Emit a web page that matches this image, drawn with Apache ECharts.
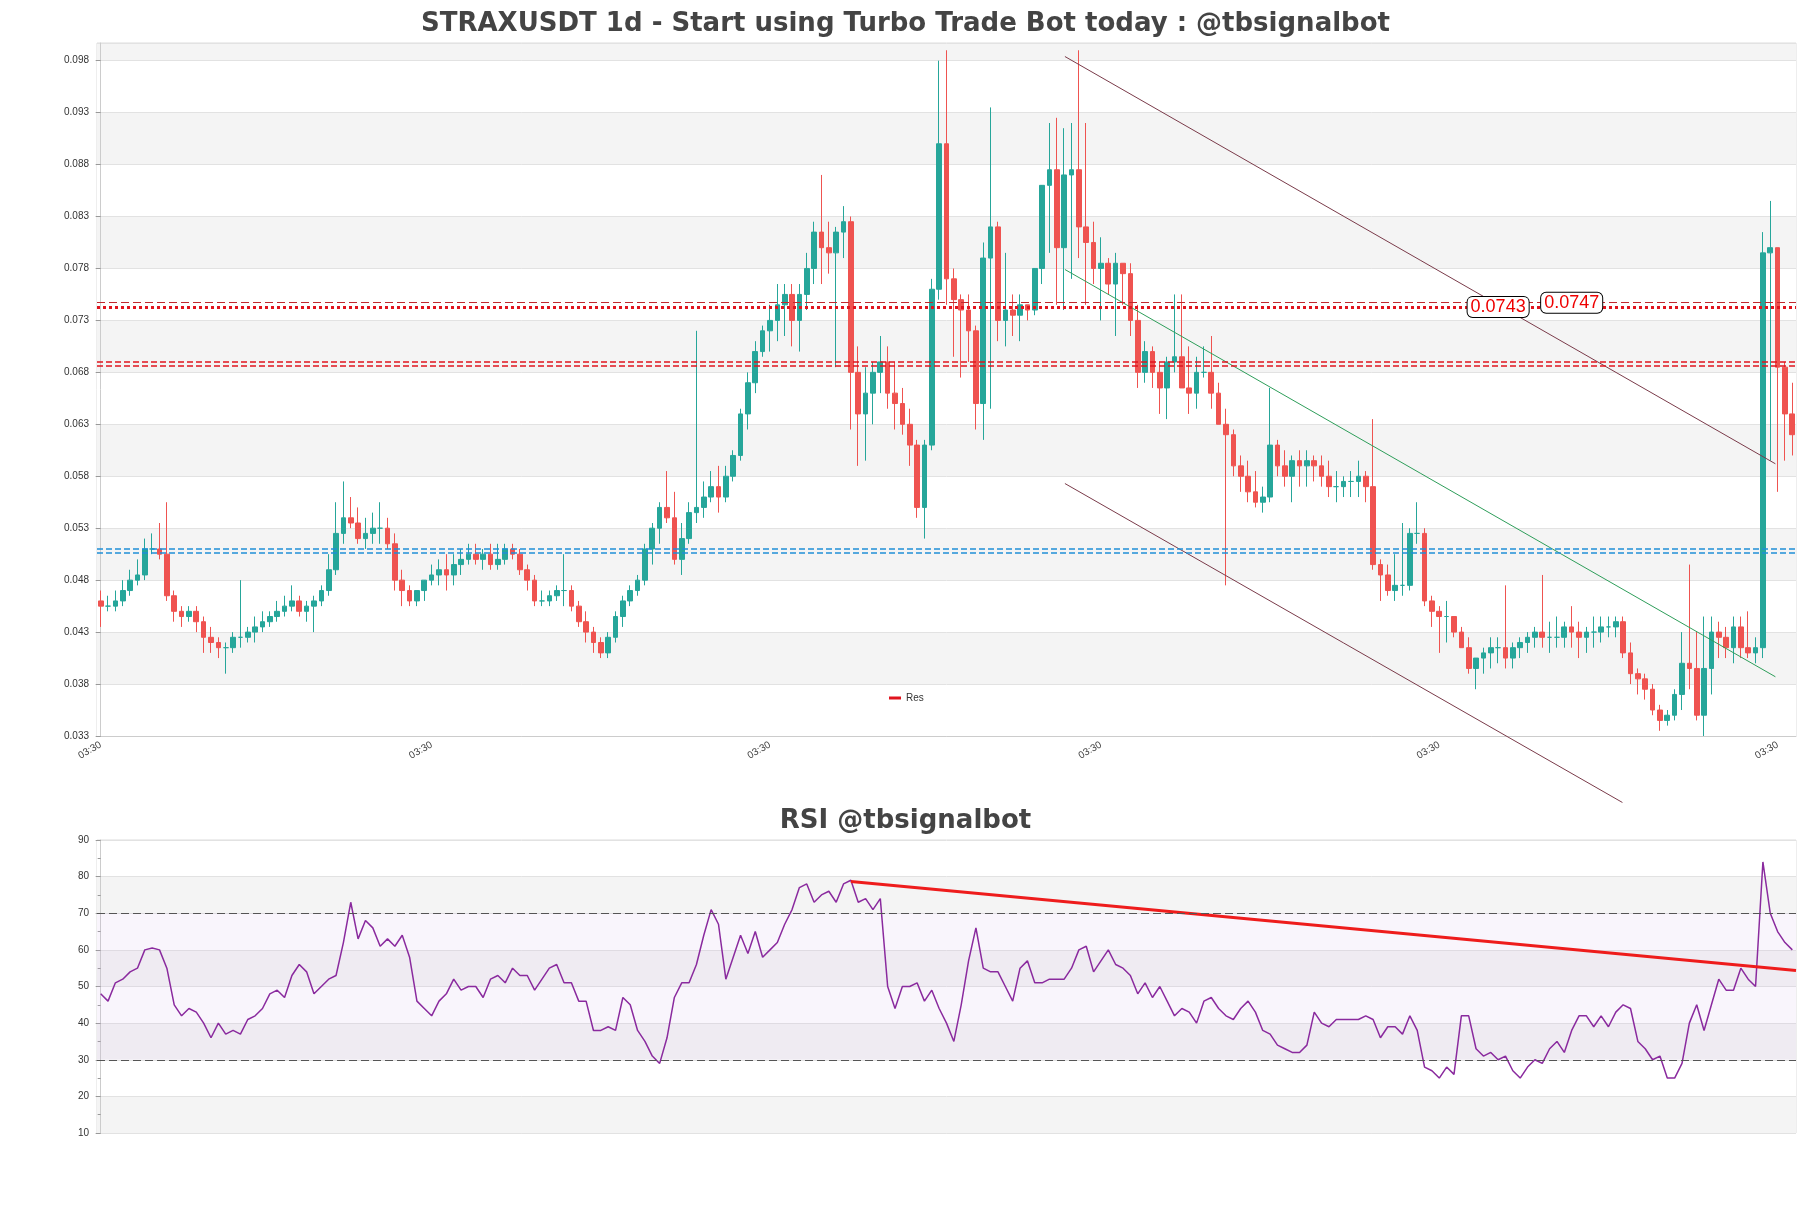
<!DOCTYPE html>
<html>
<head>
<meta charset="utf-8">
<script src="https://cdn.jsdelivr.net/npm/echarts@6/dist/echarts.min.js"></script>
<style>html,body{margin:0;padding:0;background:#fff}#c{width:1811px;height:1208px}</style>
</head>
<body>
<div id="c"></div>
<script>
// closes, highs, lows (daily candles); open = previous close
var firstOpen = 0.046;
var closes = [
 0.0455,0.0455,0.046,0.047,0.048,0.0485,0.051,0.051,0.0505,0.0465,
 0.045,0.0445,0.045,0.044,0.0425,0.042,0.0415,0.0415,0.0425,0.0425,
 0.043,0.0435,0.044,0.0445,0.045,0.0455,0.046,0.045,0.0455,0.046,
 0.047,0.049,0.0525,0.054,0.0535,0.052,0.0525,0.053,0.053,0.0515,
 0.048,0.047,0.046,0.047,0.048,0.0485,0.049,0.0485,0.0495,0.050,
 0.0505,0.050,0.0505,0.0495,0.050,0.051,0.0505,0.049,0.048,0.046,
 0.046,0.0465,0.047,0.047,0.0455,0.044,0.043,0.042,0.041,0.0425,
 0.0445,0.046,0.047,0.048,0.051,0.053,0.055,0.054,0.050,0.052,
 0.0545,0.055,0.056,0.057,0.056,0.058,0.060,0.064,0.067,0.070,
 0.072,0.073,0.0745,0.0755,0.073,0.0755,0.078,0.0815,0.080,0.0795,
 0.0815,0.0825,0.068,0.064,0.066,0.068,0.069,0.066,0.065,0.063,
 0.061,0.055,0.061,0.076,0.090,0.077,0.075,0.074,0.072,0.065,
 0.079,0.082,0.073,0.074,0.0735,0.0745,0.074,0.078,0.086,0.0875,
 0.080,0.087,0.0875,0.082,0.0805,0.078,0.0785,0.0765,0.0785,0.0775,
 0.073,0.068,0.070,0.068,0.0665,0.069,0.0695,0.0665,0.066,0.068,
 0.068,0.066,0.063,0.062,0.059,0.058,0.0565,0.0555,0.056,0.061,
 0.059,0.058,0.0595,0.059,0.0595,0.059,0.058,0.057,0.057,0.0575,
 0.0575,0.058,0.057,0.0495,0.0485,0.047,0.0475,0.0475,0.0525,0.0525,
 0.046,0.045,0.0445,0.0445,0.043,0.0415,0.0395,0.0405,0.041,0.0415,
 0.0415,0.0405,0.0415,0.042,0.0425,0.043,0.0425,0.0425,0.0425,0.0435,
 0.043,0.0425,0.043,0.043,0.0435,0.0435,0.044,0.041,0.039,0.0385,
 0.0375,0.0355,0.0345,0.035,0.037,0.040,0.0395,0.035,0.0395,0.043,
 0.0425,0.0415,0.0435,0.0415,0.041,0.0415,0.0795,0.080,0.0685,0.064,
 0.062
];
var highs = [
 0.047,0.0465,0.047,0.048,0.049,0.050,0.052,0.0525,0.0535,0.0555,
 0.047,0.0455,0.0455,0.0455,0.0445,0.0435,0.0425,0.042,0.043,0.048,
 0.0435,0.0445,0.045,0.045,0.046,0.0465,0.0475,0.0465,0.046,0.0465,
 0.0475,0.0505,0.0555,0.0575,0.056,0.055,0.054,0.0545,0.0555,0.054,
 0.0525,0.049,0.0475,0.047,0.0475,0.0495,0.050,0.0505,0.0505,0.051,
 0.0515,0.0515,0.051,0.0515,0.0515,0.0515,0.0515,0.051,0.0495,0.0485,
 0.047,0.047,0.0475,0.0505,0.0475,0.046,0.045,0.0435,0.0425,0.043,
 0.045,0.0465,0.0475,0.0485,0.0515,0.0535,0.0555,0.0585,0.0565,0.0535,
 0.0555,0.072,0.0575,0.0585,0.059,0.059,0.0605,0.0645,0.068,0.071,
 0.0725,0.0745,0.0765,0.0765,0.0765,0.0765,0.0795,0.0825,0.087,0.0825,
 0.082,0.084,0.083,0.0705,0.0685,0.069,0.0715,0.0705,0.069,0.0665,
 0.0645,0.0615,0.0615,0.077,0.098,0.099,0.078,0.0755,0.0755,0.0725,
 0.0805,0.0935,0.0825,0.0795,0.0755,0.0755,0.0745,0.0755,0.0815,0.092,
 0.0925,0.0915,0.092,0.099,0.092,0.0825,0.081,0.079,0.0795,0.0785,
 0.0785,0.0745,0.071,0.0705,0.069,0.0695,0.0755,0.0755,0.0705,0.0695,
 0.0705,0.0715,0.067,0.0645,0.0625,0.060,0.0595,0.0585,0.057,0.0665,
 0.0615,0.0605,0.060,0.0605,0.0605,0.060,0.060,0.0595,0.0585,0.058,
 0.0585,0.0595,0.0585,0.0635,0.050,0.0495,0.0505,0.0535,0.053,0.0555,
 0.053,0.0465,0.0455,0.046,0.0445,0.0435,0.0425,0.0405,0.0415,0.0425,
 0.0425,0.0475,0.042,0.0425,0.043,0.0435,0.0485,0.044,0.0445,0.044,
 0.0455,0.044,0.0435,0.0445,0.0445,0.0445,0.0445,0.0445,0.042,0.0395,
 0.039,0.038,0.036,0.0355,0.0375,0.043,0.0495,0.043,0.0445,0.0445,
 0.044,0.0435,0.0445,0.0445,0.045,0.0425,0.0815,0.0845,0.080,0.069,
 0.067
];
var lows = [
 0.0435,0.045,0.045,0.0455,0.0465,0.0475,0.048,0.0505,0.050,0.046,
 0.044,0.0435,0.044,0.043,0.041,0.041,0.0405,0.039,0.041,0.0415,
 0.042,0.042,0.043,0.0435,0.044,0.0445,0.045,0.0445,0.044,0.043,
 0.0455,0.0465,0.0485,0.0515,0.053,0.0515,0.051,0.0515,0.0515,0.051,
 0.047,0.0455,0.0455,0.0455,0.046,0.0475,0.0475,0.047,0.0475,0.0485,
 0.0495,0.0495,0.049,0.049,0.049,0.0495,0.050,0.0485,0.047,0.0455,
 0.0455,0.0455,0.046,0.0455,0.045,0.0435,0.042,0.041,0.0405,0.0405,
 0.042,0.0435,0.0455,0.0465,0.0475,0.0495,0.0515,0.0535,0.0495,0.0485,
 0.0515,0.0535,0.054,0.0555,0.0545,0.0555,0.0575,0.0595,0.0625,0.066,
 0.0695,0.070,0.071,0.0715,0.0705,0.070,0.074,0.0765,0.0765,0.0775,
 0.0685,0.079,0.0625,0.059,0.0595,0.063,0.066,0.0645,0.0625,0.062,
 0.059,0.054,0.052,0.0605,0.075,0.0745,0.0695,0.0675,0.069,0.0625,
 0.0615,0.0645,0.071,0.0705,0.0715,0.071,0.073,0.0735,0.0765,0.0795,
 0.0745,0.074,0.077,0.079,0.0745,0.0765,0.073,0.0755,0.0715,0.0745,
 0.0715,0.0665,0.067,0.0665,0.064,0.0635,0.068,0.0675,0.064,0.0645,
 0.0675,0.0645,0.063,0.0475,0.058,0.0565,0.0555,0.055,0.0545,0.0555,
 0.058,0.057,0.0555,0.057,0.057,0.0575,0.057,0.056,0.0555,0.056,
 0.056,0.056,0.0555,0.049,0.046,0.0465,0.046,0.0465,0.047,0.0515,
 0.0455,0.0435,0.041,0.042,0.0425,0.0415,0.039,0.0375,0.039,0.0395,
 0.040,0.0395,0.0395,0.0405,0.041,0.0415,0.0415,0.041,0.0415,0.0415,
 0.0415,0.0405,0.041,0.0415,0.042,0.0425,0.0425,0.0405,0.038,0.037,
 0.0365,0.035,0.0335,0.034,0.0345,0.0355,0.0375,0.0345,0.033,0.037,
 0.0405,0.0405,0.040,0.0405,0.0405,0.040,0.0405,0.0595,0.0565,0.0595,
 0.060
];
var rsi = [
 48,46,51,52,54,55,60,60.5,60,55,
 45,42,44,43,40,36,40,37,38,37,
 41,42,44,48,49,47,53,56,54,48,
 50,52,53,62,73,63,68,66,61,63,
 61,64,58,46,44,42,46,48,52,49,
 50,50,47,52,53,51,55,53,53,49,
 52,55,56,51,51,46,46,38,38,39,
 38,47,45,38,35,31,29,36,47,51,
 51,56,64,71,67,52,58,64,59,65,
 58,60,62,67,71,77,78,73,75,76,
 73,78,79,73,74,71,74,50,44,50,
 50,51,46,49,44,40,35,45,57,66,
 55,54,54,50,46,55,57,51,51,52,
 52,52,55,60,61,54,57,60,56,55,
 53,48,51,47,50,46,42,44,43,40,
 46,47,44,42,41,44,46,43,38,37,
 34,33,32,32,34,43,40,39,41,41,
 41,41,42,41,36,39,39,37,42,38,
 28,27,25,28,26,42,42,33,31,32,
 30,31,27,25,28,30,29,33,35,32,
 38,42,42,39,42,39,43,45,44,35,
 33,30,31,25,25,29,40,45,38,45,
 52,49,49,55,52,50,84,70,65,62,
 60
];
var tickIdx = [0, 45, 91, 136, 182, 228];
var resLevels = [0.0747, 0.0743, 0.0690, 0.0686];
var supLevels = [0.0510, 0.0506];
var chanUpper = [[131.1, 0.0984], [227.7, 0.0592]];
var chanLower = [[131.1, 0.0573], [206.9, 0.0266]];
var chanMid = [[131.1, 0.0779], [227.7, 0.0387]];
var rsiTrend = [[102, 78.7], [230.5, 54.4]];

var n = closes.length;
var cats = [], ohlc = [], rsiPts = [];
for (var i = 0; i < n; i++) {
  cats.push('03:30');
  var o = i === 0 ? firstOpen : closes[i - 1];
  ohlc.push([o, closes[i], lows[i], highs[i]]);
  rsiPts.push([i, rsi[i]]);
}

var chart = echarts.init(document.getElementById('c'));
var ls = function (c, t, w) { return {color: c, type: t, width: w}; };
chart.setOption({
  animation: false,
  title: [
    {text: 'STRAXUSDT 1d - Start using Turbo Trade Bot today : @tbsignalbot', left: 'center', top: 6,
     textStyle: {fontSize: 26, fontWeight: 'bold', color: '#444', fontFamily: 'DejaVu Sans'}},
    {text: 'RSI @tbsignalbot', left: 'center', top: 803,
     textStyle: {fontSize: 26, fontWeight: 'bold', color: '#444', fontFamily: 'DejaVu Sans'}}
  ],
  legend: {data: ['Res'], left: 884, top: 688, icon: 'rect',
    itemWidth: 12, itemHeight: 3, textStyle: {fontSize: 10, color: '#333'}},
  grid: [
    {left: 97, right: 15, top: 43, height: 693, show: true, borderColor: '#ddd', borderWidth: 1},
    {left: 97, right: 15, top: 840, height: 293, show: true, borderColor: '#ddd', borderWidth: 1}
  ],
  xAxis: [
    {type: 'category', data: cats, gridIndex: 0,
     axisLine: {lineStyle: {color: '#ccc'}}, axisTick: {show: false},
     axisLabel: {rotate: 30, fontSize: 10, color: '#444',
       interval: function (idx) { return tickIdx.indexOf(idx) >= 0; }}},
    {type: 'value', gridIndex: 0, min: -0.5, max: n - 0.5, show: false},
    {type: 'value', gridIndex: 1, min: -0.5, max: n - 0.5, show: false}
  ],
  yAxis: [
    {type: 'value', gridIndex: 0, min: 0.033, max: 0.0997, interval: 0.005,
     axisLine: {show: true, lineStyle: {color: '#ccc'}}, axisTick: {show: true, lineStyle: {color: '#999'}},
     axisLabel: {fontSize: 10, color: '#333', showMaxLabel: false, formatter: function (v) { return v.toFixed(3); }},
     splitLine: {lineStyle: {color: '#e2e2e2'}},
     splitArea: {show: true, areaStyle: {color: ['#ffffff', '#f4f4f4']}}},
    {type: 'value', gridIndex: 1, min: 10, max: 90, interval: 10,
     axisLine: {show: true, lineStyle: {color: '#ccc'}}, axisTick: {show: true, lineStyle: {color: '#999'}},
     minorTick: {show: true, splitNumber: 2, lineStyle: {color: '#999'}},
     axisLabel: {fontSize: 10, color: '#333'},
     splitLine: {lineStyle: {color: '#e2e2e2'}},
     splitArea: {show: true, areaStyle: {color: ['#f4f4f4', '#ffffff']}}}
  ],
  series: [
    {type: 'candlestick', xAxisIndex: 0, yAxisIndex: 0, data: ohlc, barWidth: '70%',
     itemStyle: {color: '#26a69a', color0: '#ef5350', borderColor: '#26a69a', borderColor0: '#ef5350', borderWidth: 1},
     markLine: {symbol: 'none', silent: true, label: {show: false}, precision: 5,
       data: [
         {yAxis: resLevels[0], lineStyle: ls('#c0282d', [8, 4], 1.2)},
         {yAxis: resLevels[1], lineStyle: ls('#e0141e', 'dotted', 3)},
         {yAxis: resLevels[2], lineStyle: ls('#e0141e', [6, 3], 1.5)},
         {yAxis: resLevels[3], lineStyle: ls('#e0141e', [6, 3], 1.5)},
         {yAxis: supLevels[0], lineStyle: ls('#1f8fd6', [6, 3], 1.5)},
         {yAxis: supLevels[1], lineStyle: ls('#1f8fd6', [6, 3], 1.5)}
       ]},
     markPoint: {symbolSize: 0, data: [
       {coord: [190, resLevels[1]], label: {formatter: '0.0743'}},
       {coord: [200, resLevels[0]], label: {formatter: '0.0747'}}
     ], label: {show: true, color: '#e00', fontSize: 18, backgroundColor: '#fff', borderColor: '#000',
       borderWidth: 1, borderRadius: 5, padding: [1, 3], position: 'inside'}}},
    {name: 'Res', type: 'line', xAxisIndex: 1, yAxisIndex: 0, data: [], symbol: 'none',
     itemStyle: {color: '#e0141e'}, lineStyle: {color: '#e0141e'}},
    {type: 'line', xAxisIndex: 1, yAxisIndex: 0, data: chanUpper, symbol: 'none', clip: false,
     lineStyle: {color: '#7a3b4a', width: 1}},
    {type: 'line', xAxisIndex: 1, yAxisIndex: 0, data: chanLower, symbol: 'none', clip: false,
     lineStyle: {color: '#7a3b4a', width: 1}},
    {type: 'line', xAxisIndex: 1, yAxisIndex: 0, data: chanMid, symbol: 'none',
     lineStyle: {color: '#2e9e5a', width: 1}},
    {type: 'line', xAxisIndex: 2, yAxisIndex: 1, data: rsiPts, symbol: 'none',
     lineStyle: {color: '#8a2a9e', width: 1.5},
     markArea: {silent: true, itemStyle: {color: 'rgba(210,180,230,0.13)'}, data: [[{yAxis: 30}, {yAxis: 70}]]},
     markLine: {symbol: 'none', silent: true, label: {show: false},
       lineStyle: {color: '#555', type: [8, 4], width: 1.2}, data: [{yAxis: 70}, {yAxis: 30}]}},
    {type: 'line', xAxisIndex: 2, yAxisIndex: 1, data: rsiTrend, symbol: 'none',
     lineStyle: {color: '#ee1c1c', width: 3}}
  ]
});
</script>
</body>
</html>
